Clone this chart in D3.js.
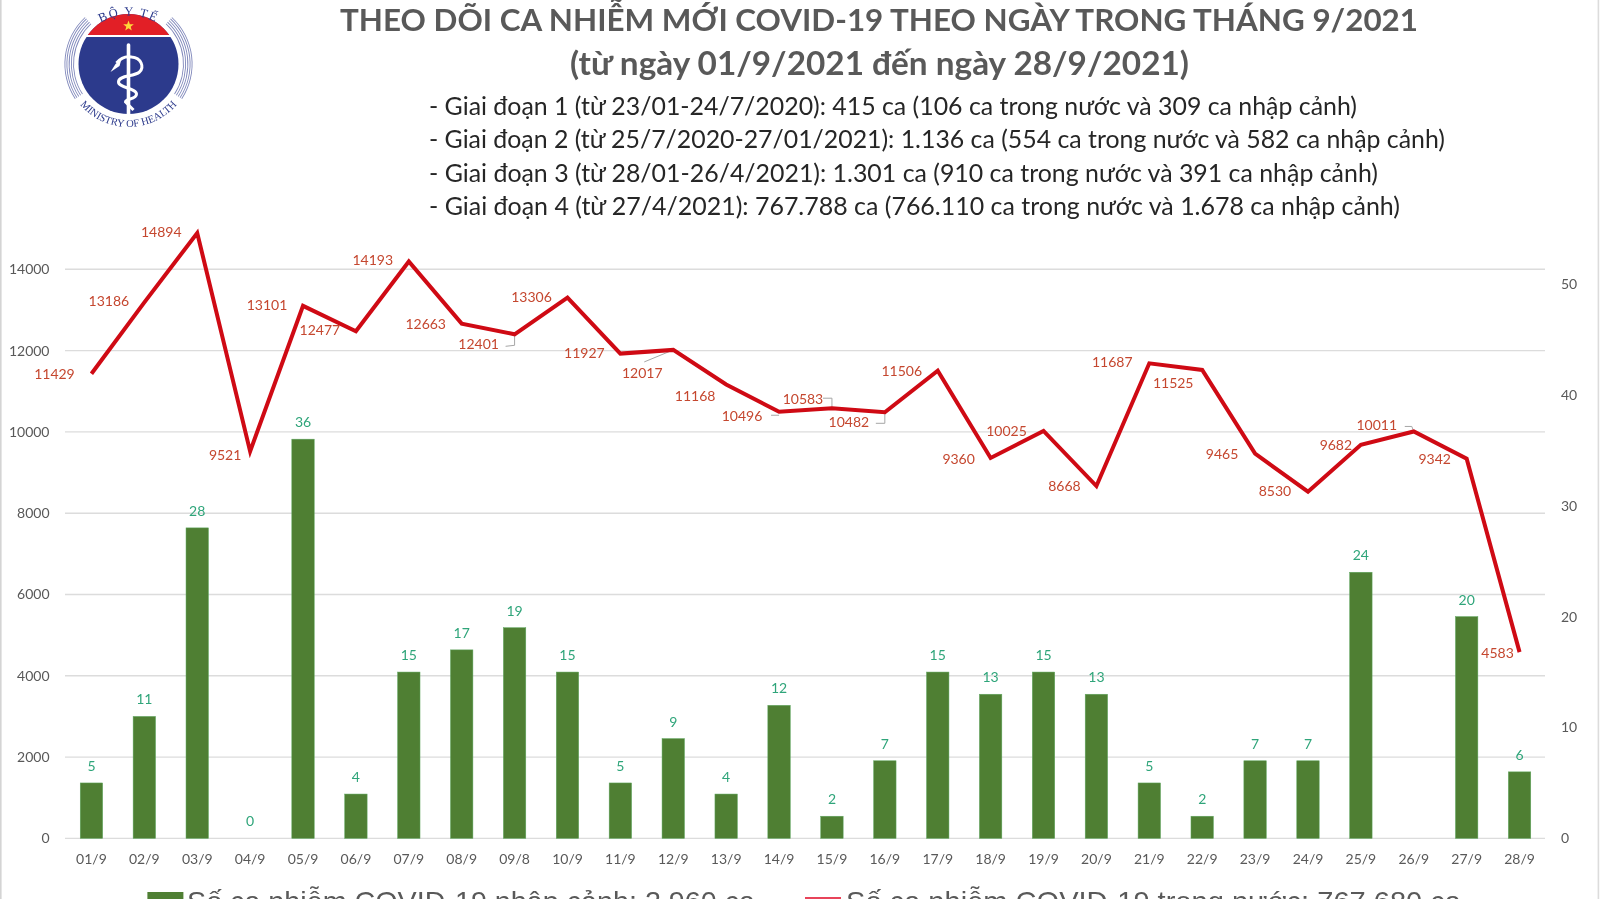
<!DOCTYPE html>
<html lang="vi">
<head>
<meta charset="utf-8">
<title>Theo dõi ca nhiễm mới COVID-19</title>
<script src="https://cdn.jsdelivr.net/npm/d3@7/dist/d3.min.js"></script>
<style>
html,body{margin:0;padding:0;background:#fff;overflow:hidden}
svg{display:block;filter:blur(0.35px)}
text{font-family:Lato,"Open Sans","Noto Sans",sans-serif}
.axis path,.axis line{display:none}
.axis text{fill:#595959;font-size:14px;font-family:Lato,"Open Sans",sans-serif}
</style>
</head>
<body>
<svg id="chart" width="1600" height="899" viewBox="0 0 1600 899"></svg>
<script>
const categories = ["01/9","02/9","03/9","04/9","05/9","06/9","07/9","08/9","09/8","10/9","11/9","12/9","13/9","14/9","15/9","16/9","17/9","18/9","19/9","20/9","21/9","22/9","23/9","24/9","25/9","26/9","27/9","28/9"];
const domesticCases = [11429,13186,14894,9521,13101,12477,14193,12663,12401,13306,11927,12017,11168,10496,10583,10482,11506,9360,10025,8668,11687,11525,9465,8530,9682,10011,9342,4583];
const importedCases = [5,11,28,0,36,4,15,17,19,15,5,9,4,12,2,7,15,13,15,13,5,2,7,7,24,null,20,6];
const leftTicks = [0,2000,4000,6000,8000,10000,12000,14000];
const rightTicks = [0,10,20,30,40,50];
const titleLines = ["THEO DÕI CA NHIỄM MỚI COVID-19 THEO NGÀY TRONG THÁNG 9/2021","(từ ngày 01/9/2021 đến ngày 28/9/2021)"];
const periodLines = [
  "- Giai đoạn 1 (từ 23/01-24/7/2020): 415 ca (106 ca trong nước và 309 ca nhập cảnh)",
  "- Giai đoạn 2 (từ 25/7/2020-27/01/2021): 1.136 ca (554 ca trong nước và 582 ca nhập cảnh)",
  "- Giai đoạn 3 (từ 28/01-26/4/2021): 1.301 ca (910 ca trong nước và 391 ca nhập cảnh)",
  "- Giai đoạn 4 (từ 27/4/2021): 767.788 ca (766.110 ca trong nước và 1.678 ca nhập cảnh)"
];
const legendImported = "Số ca nhiễm COVID-19 nhập cảnh: 2.960 ca";
const legendDomestic = "Số ca nhiễm COVID-19 trong nước: 767.680 ca";

// Hand-placed label nudges relative to each line point (separate from the data)
const labelNudgeX = [-37,-35.5,-36,-25,-36,-36,-36,-36,-36,-36,-36,-31,-31,-37,-29,-36,-36,-32,-37,-32,-37,-29,-33,-33,-25,-37,-32,-22];
const labelNudgeY = [0,-1,-1,4,-1,-1,-1,0,10,0,0,23,12,4,-9,10,0,1,0,0,-1,13,0,-1,0,-6,0,1];
const leaderNudges = [
  {i:8,  pts:[[0,0],[0,11],[-9,12]]},
  {i:11, pts:[[0,0],[-29,12]]},
  {i:13, pts:[[0,3.5],[-8,3.5]]},
  {i:14, pts:[[0,0],[0,-10],[-9,-10]]},
  {i:15, pts:[[0,0],[0,11],[-9,11]]},
  {i:25, pts:[[0,0],[-2,-5],[-9,-5]]}
];

const svg = d3.select("#chart");
const plotLeft = 65, plotRight = 1546, baseY = 838.4, topY = 269.3;

const x = d3.scaleBand().domain(categories).range([plotLeft, plotRight]).paddingInner(0.576).paddingOuter(0.288);
const yLeft = d3.scaleLinear().domain([0,14000]).range([baseY, topY]);
const yRight = d3.scaleLinear().domain([0,50]).range([baseY, baseY - 554.5]);
const cx = d => x(d) + x.bandwidth()/2;

// page edges
svg.append("rect").attr("width",1600).attr("height",899).attr("fill","#fff");
svg.append("rect").attr("x",0).attr("y",0).attr("width",1.6).attr("height",899).attr("fill","#d4d4d4");
svg.append("rect").attr("x",1597.6).attr("y",0).attr("width",1.6).attr("height",899).attr("fill","#dcdcdc");

// logo
(function logo(){
  const g = svg.append("g").attr("class","logo").attr("transform","translate(128.5,64)");
  const R = 50;
  g.append("circle").attr("r",R).attr("fill","#2c3a8c");
  const clip = svg.append("clipPath").attr("id","logoTop");
  clip.append("rect").attr("x",-R).attr("y",-R).attr("width",2*R).attr("height",R-29);
  g.append("circle").attr("r",R).attr("fill","#e21f26").attr("clip-path","url(#logoTop)");
  g.append("rect").attr("x",-R).attr("y",-29).attr("width",2*R).attr("height",2).attr("fill","#fff");
  const star = d3.range(10).map(k=>{const r=k%2?2.3:5.6,a=-Math.PI/2+k*Math.PI/5;return [r*Math.cos(a),r*Math.sin(a)];});
  g.append("path").attr("d",d3.line()(star)+"Z").attr("transform","translate(0,-38)").attr("fill","#ffd83a");
  [55,57.2,59.4,61.6,63.6].forEach(r=>{
    const arc = d3.arc().innerRadius(r-.45).outerRadius(r+.45);
    const a0 = 0.75, a1 = 2.15;
    g.append("path").attr("d",arc({startAngle:a0,endAngle:a1})).attr("fill","#8088bb");
    g.append("path").attr("d",arc({startAngle:-a1,endAngle:-a0})).attr("fill","#8088bb");
  });
  g.append("path").attr("d","M0,-19 L0,50").attr("stroke","#fff").attr("stroke-width",3.6).attr("stroke-linecap","round");
  g.append("path").attr("d","M-12,-1 C-7,-7 -2,-8 3,-7 C13,-6 16,3 11,8 C5,13 -10,11 -10,18 C-10,24 8,24 8,30 C8,36 -3,34 -3,38 L5,46")
    .attr("fill","none").attr("stroke","#fff").attr("stroke-width",3);
  g.append("path").attr("d","M-18,8 L-13,0 L-7,-5 L-9,2 Z").attr("fill","#fff");
  const defs = svg.append("defs");
  defs.append("path").attr("id","logoArcTop").attr("d","M-36,-36 A58,58 0 0 1 36,-36");
  defs.append("path").attr("id","logoArcBot").attr("d","M-52,36 A63.6,63.6 0 0 0 52,36");
  g.append("text").attr("font-size",12.5).attr("letter-spacing",1.6).attr("fill","#2c3a8c").style("font-family","'Liberation Serif',serif")
    .append("textPath").attr("href","#logoArcTop").attr("startOffset","50%").attr("text-anchor","middle").text("BỘ Y TẾ");
  g.append("text").attr("font-size",10.5).attr("fill","#2c3a8c").style("font-family","'Liberation Serif',serif")
    .append("textPath").attr("href","#logoArcBot").attr("startOffset","50%").attr("text-anchor","middle").text("MINISTRY OF HEALTH");
})();

// header
const titleGeom = [[340,1418,31,31],[570,1189,75,33]];
svg.selectAll("text.title").data(titleLines).join("text").attr("class","title")
  .attr("x",(d,i)=>titleGeom[i][0]).attr("y",(d,i)=>titleGeom[i][2])
  .attr("font-size",(d,i)=>titleGeom[i][3]).attr("font-weight",700).attr("fill","#595959")
  .attr("textLength",(d,i)=>titleGeom[i][1]-titleGeom[i][0]).attr("lengthAdjust","spacingAndGlyphs").text(d=>d);
const periodGeom = [[1357,115],[1445,148],[1378,182],[1400,215]];
svg.selectAll("text.period").data(periodLines).join("text").attr("class","period")
  .attr("x",429).attr("y",(d,i)=>periodGeom[i][1]).attr("font-size",24.5).attr("fill","#262626")
  .attr("textLength",(d,i)=>periodGeom[i][0]-429).attr("lengthAdjust","spacingAndGlyphs").text(d=>d);

// grid
svg.append("g").selectAll("line").data(leftTicks).join("line")
  .attr("x1",plotLeft).attr("x2",1545).attr("y1",d=>yLeft(d)).attr("y2",d=>yLeft(d))
  .attr("stroke","#dcdcdc").attr("stroke-width",1.4);

// axes
svg.append("g").attr("class","axis").attr("transform",`translate(49.5,0)`)
  .call(d3.axisLeft(yLeft).tickValues(leftTicks).tickSize(0).tickPadding(0).tickFormat(d3.format("d")));
svg.append("g").attr("class","axis").attr("transform",`translate(1561,0)`)
  .call(d3.axisRight(yRight).tickValues(rightTicks).tickSize(0).tickPadding(0).tickFormat(d3.format("d")));
svg.append("g").attr("class","axis").attr("transform",`translate(0,${baseY+16})`)
  .call(d3.axisBottom(x).tickSize(0).tickPadding(0));

// bars
const barData = categories.map((c,i)=>({c,v:importedCases[i]})).filter(d=>d.v!==null);
svg.append("g").selectAll("rect").data(barData).join("rect")
  .attr("x",d=>x(d.c)).attr("width",x.bandwidth())
  .attr("y",d=>yRight(d.v)).attr("height",d=>baseY-yRight(d.v))
  .attr("fill",d=>d.v>0?"#4f7f33":"none").attr("stroke",d=>d.v>0?"#5fa860":"none").attr("stroke-width",.5);
svg.append("g").selectAll("text").data(barData).join("text")
  .attr("x",d=>cx(d.c)).attr("y",d=>yRight(d.v)-12).attr("text-anchor","middle")
  .attr("font-size",14).attr("fill","#2fa57a").text(d=>d.v);

// leaders
const pts = categories.map((c,i)=>({c,v:domesticCases[i],i}));
svg.append("g").selectAll("path").data(leaderNudges).join("path")
  .attr("d",l=>d3.line()(l.pts.map(p=>[cx(categories[l.i])+p[0], yLeft(domesticCases[l.i])+p[1]])))
  .attr("fill","none").attr("stroke","#a6a6a6").attr("stroke-width",1);

// line
svg.append("path").datum(pts)
  .attr("d",d3.line().x(d=>cx(d.c)).y(d=>yLeft(d.v)))
  .attr("fill","none").attr("stroke","#cf0a14").attr("stroke-width",4).attr("stroke-linejoin","miter");
svg.append("g").selectAll("text").data(pts).join("text")
  .attr("x",d=>cx(d.c)+labelNudgeX[d.i]).attr("y",d=>yLeft(d.v)+labelNudgeY[d.i]).attr("dy","0.35em")
  .attr("text-anchor","middle").attr("font-size",14).attr("fill","#c5472f").text(d=>d.v);

// legend (runs off the bottom of the frame, as in the reference)
svg.append("rect").attr("x",147.4).attr("y",892).attr("width",36).attr("height",12).attr("fill","#4f7f33");
svg.append("line").attr("x1",805).attr("x2",841).attr("y1",898.5).attr("y2",898.5).attr("stroke","#e8445a").attr("stroke-width",3);
const legendAttrs = sel => sel.attr("y",911).attr("font-size",28).attr("fill","#595959")
  .style("font-family","'Liberation Sans',Arial,sans-serif").attr("lengthAdjust","spacingAndGlyphs");
svg.append("text").call(legendAttrs).attr("x",187).attr("textLength",568).text(legendImported);
svg.append("text").call(legendAttrs).attr("x",846).attr("textLength",615).text(legendDomestic);
</script>
</body>
</html>
